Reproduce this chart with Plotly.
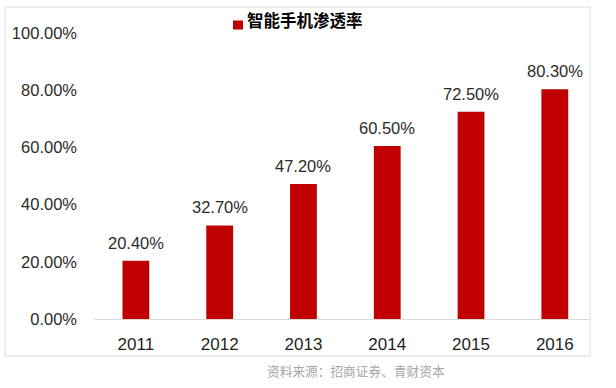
import plotly.graph_objects as go

years = ["2011", "2012", "2013", "2014", "2015", "2016"]
penetration = [20.4, 32.7, 47.2, 60.5, 72.5, 80.3]
value_labels = [f"{v:.2f}%" for v in penetration]
y_ticks = [0, 20, 40, 60, 80, 100]
y_tick_labels = [f"{t:.2f}%" for t in y_ticks]
series_name = "智能手机渗透率"
source_text = "资料来源：招商证券、青财资本"

BAR = "#C00000"
W, H = 616, 388
L, R, T, B = 94, 26, 33, 69

fig = go.Figure()
fig.add_trace(go.Bar(x=years, y=penetration, marker=dict(color=BAR, line=dict(width=0)),
                     width=0.32, name=series_name, showlegend=False, hoverinfo="skip"))

for i, (v, lab) in enumerate(zip(penetration, value_labels)):
    fig.add_annotation(x=i, y=v, text=lab, showarrow=False, yanchor="bottom", yshift=7,
                       font=dict(family="Liberation Sans, Arial, sans-serif", size=16.5, color="#2B2B2B"))

pw = W - L - R
ph = H - T - B
def px(x):
    return (x - L) / pw
def py(y):
    return (H - B - y) / ph

# outer chart border
fig.add_shape(type="rect", xref="paper", yref="paper", x0=px(5), x1=px(590), y0=py(356), y1=py(7),
              line=dict(color="#DCDCDC", width=1), fillcolor="rgba(0,0,0,0)", layer="below")
# legend
fig.add_shape(type="rect", xref="paper", yref="paper", x0=px(233), x1=px(243), y0=py(29.5), y1=py(20.5),
              line=dict(width=0), fillcolor=BAR)
fig.add_annotation(xref="paper", yref="paper", x=px(245), y=py(20), xanchor="left", yanchor="middle",
                   text=f"<b>{series_name}</b>", showarrow=False,
                   font=dict(family="Noto Sans CJK SC", size=16.5, color="#000000"))
# source
fig.add_annotation(xref="paper", yref="paper", x=px(356), y=py(370), xanchor="center", yanchor="middle",
                   text=source_text, showarrow=False,
                   font=dict(family="Noto Sans CJK SC", size=12.7, color="#A6A6A6"))

fig.update_layout(
    width=W, height=H,
    margin=dict(l=L, r=R, t=T, b=B),
    paper_bgcolor="white", plot_bgcolor="white",
    showlegend=False,
    xaxis=dict(type="category", range=[-0.5, 5.42], showline=True, linecolor="#D9D9D9", linewidth=1,
               showgrid=False, ticks="", ticklabelstandoff=10,
               tickfont=dict(family="Liberation Sans, Arial, sans-serif", size=17, color="#1F1F1F")),
    yaxis=dict(range=[0, 100], tickvals=y_ticks, ticktext=y_tick_labels, showgrid=False,
               zeroline=False, showline=False, ticks="", ticklabelstandoff=16,
               tickfont=dict(family="Liberation Sans, Arial, sans-serif", size=16.5, color="#2B2B2B")),
)

fig.write_html("out.html", config={"displayModeBar": False},
               post_script="document.body.style.margin='0';document.body.style.overflow='hidden';")
